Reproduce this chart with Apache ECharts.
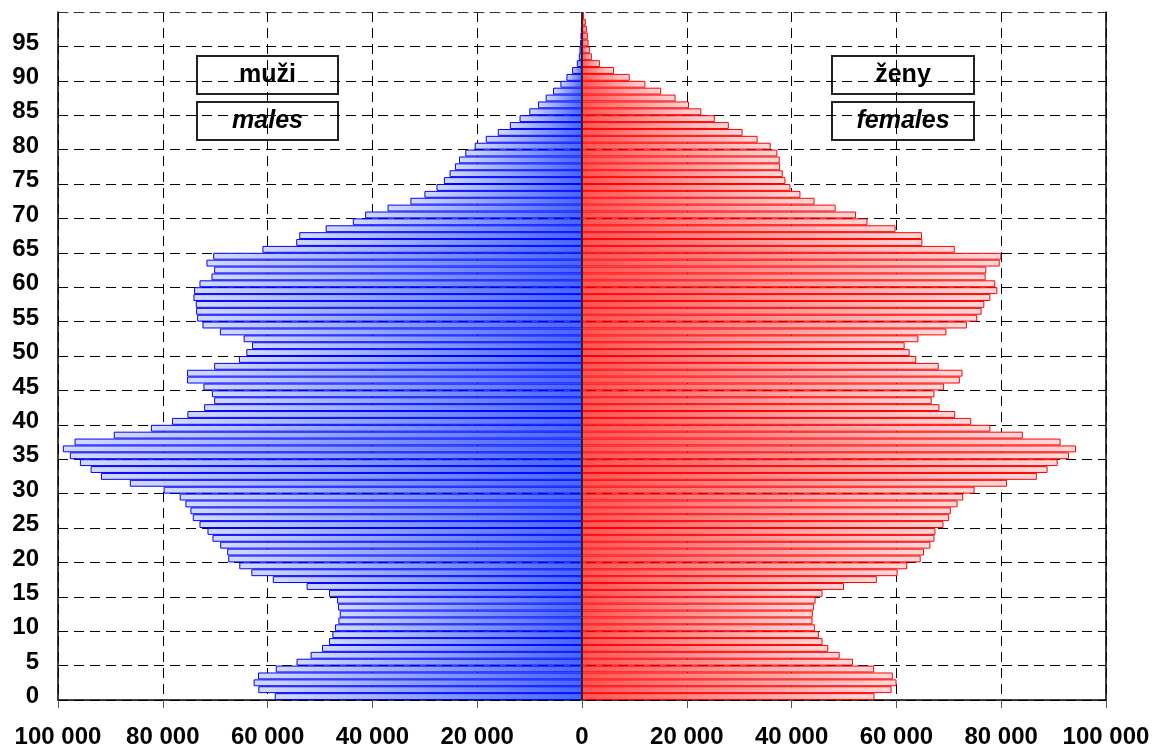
<!DOCTYPE html>
<html>
<head>
<meta charset="utf-8">
<script src="https://cdn.jsdelivr.net/npm/echarts@6/dist/echarts.min.js"></script>
<style>
html,body{margin:0;padding:0;background:#fff;}
#chart{width:1156px;height:749px;}
</style>
</head>
<body>
<div id="chart"></div>
<script>
var ages = [];
for (var a = 0; a <= 99; a++) ages.push(String(a));

var males = [
58630,61770,62660,61830,58440,54480,51790,49620,48280,47640,
47130,46490,46230,46550,46740,48280,52560,59010,63100,65400,
67510,67710,69050,70520,71475,73000,74280,74730,75690,76780,
79840,86300,91800,93780,95820,97740,99080,96840,89360,82270,
78250,75310,72110,70200,70640,72240,75370,75370,70200,65470,
64060,62970,64570,69110,72430,73450,73640,73710,74160,74030,
73000,70710,70200,71670,70390,60990,54540,53960,48920,43740,
41380,37100,32750,30070,27770,26360,25270,24250,23480,22270,
20480,18370,16070,13770,11920,10060,8400,6930,5530,4120,
2970,1890,990,610,480,350,290,220,160,100
];

var females = [
55820,59080,60030,59330,55760,51730,49170,47000,45910,45210,
44440,43990,44060,44250,44570,45910,50000,56270,60230,62080,
64630,65270,66490,67260,67450,68980,70070,70390,71670,72750,
74920,81120,86810,88850,90770,92940,94280,91340,84130,77930,
74280,71220,68210,66740,67260,69110,72110,72620,68080,63800,
62530,61570,64190,69550,73450,75430,76270,76780,77930,79270,
78880,77030,77160,79720,80030,71150,64950,64890,59840,54480,
52300,48410,44380,41690,39780,38820,38310,37800,37730,37290,
36010,33520,30640,28020,25340,22780,20420,17860,15110,12110,
9100,6100,3420,1890,1500,1250,1120,930,730,400
];

var xTicks = { min: -100000, max: 100000, step: 20000 };
var legendLabels = { maleCz: 'muži', maleEn: 'males', femaleCz: 'ženy', femaleEn: 'females' };

var FONT = '"Liberation Sans", Arial, sans-serif';

function fmt(v) {
  return String(Math.abs(v)).replace(/\B(?=(\d{3})+(?!\d))/g, ' ');
}

var chart = echarts.init(document.getElementById('chart'), null, { renderer: 'canvas' });

function boxGroup(x, y, w, h, text, italic) {
  return {
    type: 'group',
    left: x, top: y,
    children: [
      { type: 'rect', shape: { x: 0, y: 0, width: w, height: h },
        style: { fill: '#fff', stroke: '#222', lineWidth: 2 } },
      { type: 'text', x: w / 2, y: h / 2,
        style: { text: text, fill: '#000', font: (italic ? 'italic ' : '') + 'bold 25px ' + FONT,
                 align: 'center', verticalAlign: 'middle' } }
    ]
  };
}

var dash = [10, 6];

var option = {
  animation: false,
  backgroundColor: '#fff',
  grid: { left: 58, right: 50, top: 12, bottom: 49, show: false, containLabel: false },
  xAxis: [
    {
      type: 'value',
      min: xTicks.min, max: xTicks.max, interval: xTicks.step,
      axisLine: { show: true, onZero: false, lineStyle: { color: '#000', width: 1.5 } },
      axisTick: { show: true, length: 8, lineStyle: { color: '#555', width: 1 } },
      axisLabel: { formatter: fmt, color: '#000', fontFamily: FONT, fontWeight: 'bold', fontSize: 24, margin: 25 },
      splitLine: { show: true, lineStyle: { color: '#000', width: 1, type: dash } }
    },
    {
      type: 'value', position: 'top',
      min: xTicks.min, max: xTicks.max, interval: xTicks.step,
      axisLine: { show: true, onZero: false, lineStyle: { color: '#333', width: 1, type: dash } },
      axisTick: { show: false }, axisLabel: { show: false }, splitLine: { show: false }
    }
  ],
  yAxis: [
    {
      type: 'category',
      data: ages,
      boundaryGap: true,
      axisLine: { show: true, onZero: false, lineStyle: { color: '#000', width: 1.5 } },
      axisTick: { show: false },
      axisLabel: { interval: 4, color: '#000', fontFamily: FONT, fontWeight: 'bold', fontSize: 24, margin: 19 },
      splitLine: { show: true, interval: 4, lineStyle: { color: '#000', width: 1, type: dash } }
    },
    {
      type: 'category', position: 'right',
      data: ages,
      boundaryGap: true,
      axisLine: { show: true, onZero: false, lineStyle: { color: '#000', width: 1.5 } },
      axisTick: { show: false }, axisLabel: { show: false }, splitLine: { show: false }
    }
  ],
  series: [
    {
      name: 'males', type: 'bar',
      data: males.map(function (v) { return -v; }),
      barGap: '-100%', barCategoryGap: '0%',
      itemStyle: {
        color: new echarts.graphic.LinearGradient(0, 0, 1, 0, [
          { offset: 0, color: '#d3dbfd' },
          { offset: 1, color: '#4466ff' }
        ]),
        borderColor: '#0000ff', borderWidth: 1
      }
    },
    {
      name: 'females', type: 'bar',
      data: females,
      barGap: '-100%', barCategoryGap: '0%',
      itemStyle: {
        color: new echarts.graphic.LinearGradient(0, 0, 1, 0, [
          { offset: 0, color: '#ff5555' },
          { offset: 1, color: '#ffdada' }
        ]),
        borderColor: '#ff0000', borderWidth: 1
      },
      markLine: {
        silent: true, symbol: 'none', label: { show: false },
        lineStyle: { color: '#222', type: 'solid', width: 1.5 },
        data: [{ xAxis: 0 }]
      }
    }
  ],
  graphic: [
    boxGroup(196, 55, 141, 38, legendLabels.maleCz, false),
    boxGroup(196, 101, 141, 38, legendLabels.maleEn, true),
    boxGroup(831, 55, 142, 38, legendLabels.femaleCz, false),
    boxGroup(831, 101, 142, 38, legendLabels.femaleEn, true)
  ]
};

chart.setOption(option);
</script>
</body>
</html>
